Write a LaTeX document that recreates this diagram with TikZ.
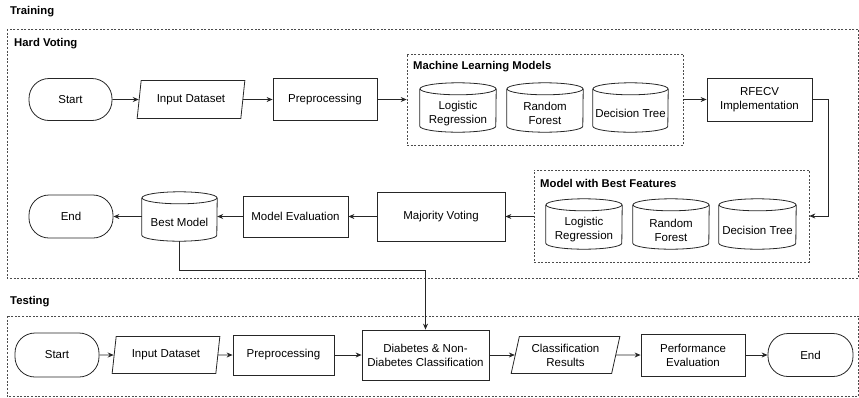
\documentclass[tikz,border=0pt]{standalone}
\usepackage{fontspec}
\setmainfont{Liberation Sans}
\usetikzlibrary{shapes.geometric,arrows.meta,calc}
\tikzset{
  ln/.style={line width=0.8pt, draw=black!85},
  arr/.style={line width=0.8pt, draw=black!85, -{Stealth[length=6pt,width=5pt]}},
  txt/.style={font=\fontsize{11.5}{14}\selectfont, align=center, inner sep=0pt},
  lbl/.style={font=\bfseries\fontsize{11.3}{14}\selectfont, inner sep=0pt, anchor=west},
  procbox/.style={txt, ln, rectangle},
  termbox/.style={txt, ln, rectangle, rounded corners=20pt},
  iobox/.style={txt, ln, trapezium, trapezium left angle=75, trapezium right angle=105, trapezium stretches=true},
  cylbody/.style={txt, rectangle},
  dbox/.style={draw=black!70, line width=0.6pt, dash pattern=on 2pt off 1.6pt, rectangle, inner sep=0pt},
}
\newcommand\cylo[2]{%
  \draw[ln] ($(#1.north west)+(0,6)$) -- ($(#1.south west)+(0,6)$)
    arc[start angle=180, end angle=360, x radius=#2, y radius=6pt]
    -- ($(#1.north east)+(0,6)$);
  \draw[ln] ($(#1.north)+(0,6)$) ellipse[x radius=#2, y radius=6pt];
}
\begin{document}
\begin{tikzpicture}[x=1pt,y=1pt]
\useasboundingbox (0,0) rectangle (859,-397);

% ---------- Training ----------
\node[lbl] (trainlbl) at (10,-12) {Training};
\draw[dbox] (7,-29) rectangle (858.4,-278);
\node[lbl] (hardlbl) at (14,-44) {Hard Voting};

\node[dbox, minimum width=276pt, minimum height=91pt] (ml) at (545,-99.5) {};
\node[lbl] (mllbl) at (413,-67) {Machine Learning Models};
\node[dbox, minimum width=275pt, minimum height=92pt] (bf) at (671.5,-216) {};
\node[lbl] (bflbl) at (540,-183) {Model with Best Features};

\node[termbox, minimum width=83pt, minimum height=42pt] (start1) at (70.5,-99.5) {Start};
\node[iobox, minimum width=108pt, minimum height=38pt] (in1) at (191,-99.5) {Input Dataset};
\node[procbox, minimum width=104pt, minimum height=42pt] (pre1) at (325,-99.5) {Preprocessing};

\node[cylbody, minimum width=76pt, minimum height=37pt] (lr1) at (458,-113.5) {Logistic\\Regression};
\node[cylbody, minimum width=76pt, minimum height=37pt] (rf1) at (545,-113.5) {Random\\Forest};
\node[cylbody, minimum width=75pt, minimum height=37pt] (dt1) at (630.5,-113.5) {Decision Tree};
\cylo{lr1}{38pt}
\cylo{rf1}{38pt}
\cylo{dt1}{37.5pt}

\node[procbox, minimum width=105pt, minimum height=43pt] (rfecv) at (759.5,-99.5) {RFECV\\Implementation};

\node[cylbody, minimum width=76pt, minimum height=38pt] (lr2) at (584,-230) {Logistic\\Regression};
\node[cylbody, minimum width=76pt, minimum height=38pt] (rf2) at (671,-230) {Random\\Forest};
\node[cylbody, minimum width=77pt, minimum height=38pt] (dt2) at (757.5,-230) {Decision Tree};
\cylo{lr2}{38pt}
\cylo{rf2}{38pt}
\cylo{dt2}{38.5pt}

\node[procbox, minimum width=128pt, minimum height=49pt] (mv) at (441,-216.5) {Majority Voting};
\node[procbox, minimum width=105pt, minimum height=41pt] (me) at (295.5,-216.5) {Model Evaluation};
\node[cylbody, minimum width=75pt, minimum height=37pt] (bm) at (179.5,-222.5) {Best Model};
\cylo{bm}{37.5pt}
\node[termbox, minimum width=84pt, minimum height=43pt] (end1) at (71,-216.5) {End};

\draw[arr] (start1) -- (in1);
\draw[arr] (in1) -- (pre1);
\draw[arr] (pre1.east) -- (pre1.east -| ml.west);
\draw[arr] (ml.east |- rfecv) -- (rfecv.west);
\draw[arr] (rfecv.east) -- ++(16,0) |- (bf.east);
\draw[arr] (bf.west |- mv) -- (mv.east);
\draw[arr] (mv) -- (me);
\draw[arr] (me.west) -- (me.west -| bm.east);
\draw[arr] (bm.west |- end1) -- (end1.east);

% ---------- Testing ----------
\node[lbl] (testlbl) at (10,-302) {Testing};
\draw[dbox] (7,-316) rectangle (858.4,-396.5);

\node[termbox, minimum width=84pt, minimum height=44pt] (start2) at (57,-355) {Start};
\node[iobox, minimum width=108pt, minimum height=37pt] (in2) at (166,-355) {Input Dataset};
\node[procbox, minimum width=101pt, minimum height=40pt] (pre2) at (283.5,-355) {Preprocessing};
\node[procbox, minimum width=127pt, minimum height=50pt] (diab) at (425.5,-355) {Diabetes \& Non-\\Diabetes Classification};
\node[iobox, minimum width=109pt, minimum height=37pt] (cls) at (565.5,-355) {Classification\\Results};
\node[procbox, minimum width=104pt, minimum height=42pt] (perf) at (693,-355) {Performance\\Evaluation};
\node[termbox, minimum width=85pt, minimum height=43pt] (end2) at (810.5,-355) {End};

\draw[arr] (start2) -- (in2);
\draw[arr] (in2) -- (pre2);
\draw[arr] (pre2) -- (diab);
\draw[arr] (diab) -- (cls);
\draw[arr] (cls) -- (perf);
\draw[arr] (perf) -- (end2);

\draw[arr] (bm.south) -- ++(0,-29) -| (diab.north);
\end{tikzpicture}
\end{document}
